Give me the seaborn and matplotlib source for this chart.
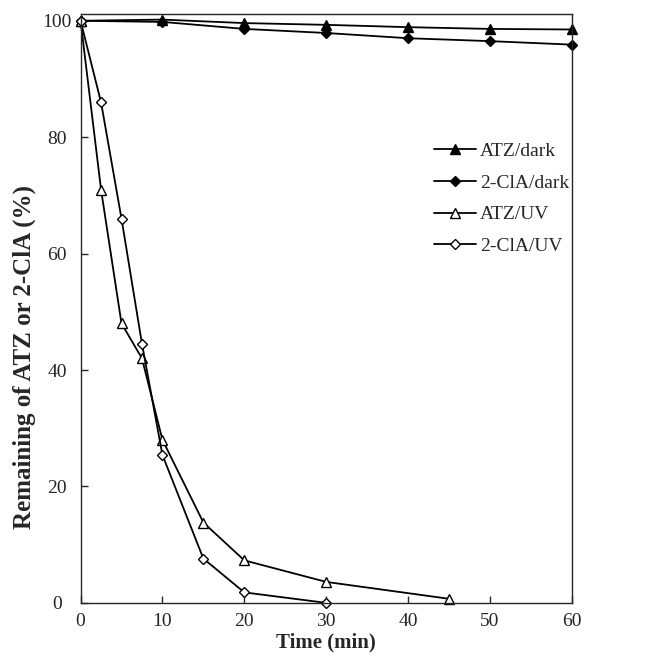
import numpy as np
import pandas as pd
import matplotlib
matplotlib.use("Agg")
import matplotlib.pyplot as plt
import seaborn as sns

sns.set_style("ticks")
plt.rcParams['font.family'] = ['Liberation Serif', 'DejaVu Serif']

t_dark = [0, 10, 20, 30, 40, 50, 60]
atz_dark = [100, 100.2, 99.6, 99.3, 98.9, 98.6, 98.5]
cla_dark = [100, 99.8, 98.6, 97.9, 97.0, 96.5, 95.9]

t_atz_uv = [0, 2.5, 5, 7.5, 10, 15, 20, 30, 45]
atz_uv = [100, 71, 48, 42, 28, 13.8, 7.3, 3.6, 0.7]

t_cla_uv = [0, 2.5, 5, 7.5, 10, 15, 20, 30]
cla_uv = [100, 86, 66, 44.5, 25.4, 7.6, 1.8, 0]

series = [
    ("ATZ/dark", t_dark, atz_dark, "^", "black", 7),
    ("2-ClA/dark", t_dark, cla_dark, "D", "black", 5.5),
    ("ATZ/UV", t_atz_uv, atz_uv, "^", "white", 7),
    ("2-ClA/UV", t_cla_uv, cla_uv, "D", "white", 5.5),
]

fig = plt.figure(figsize=(6.55, 6.56), dpi=100)
ax = fig.add_axes([0.123, 0.081, 0.750, 0.898])

for name, t, v, mk, fc, ms in series:
    df = pd.DataFrame({"t": t, "v": v})
    sns.lineplot(data=df, x="t", y="v", ax=ax, color="black", lw=1.3,
                 marker=mk, markersize=ms, markerfacecolor=fc,
                 markeredgecolor="black", markeredgewidth=1.0, label=name,
                 clip_on=False)

ax.set_xlim(0, 60)
ax.set_ylim(0, 101.2)
ax.set_xticks(np.arange(0, 61, 10))
ax.set_yticks(np.arange(0, 101, 20))
ax.tick_params(direction="in", labelsize=14, length=5, width=1, top=False, right=False)
ax.tick_params(axis="x", pad=7)
ax.tick_params(axis="y", pad=17)
for lab in ax.get_yticklabels():
    lab.set_horizontalalignment("center")
for s in ax.spines.values():
    s.set_linewidth(1.0)
ax.set_xlabel("Time (min)", fontsize=15, fontweight="bold")
ax.xaxis.set_label_coords(0.5, -0.051)
ax.set_ylabel("Remaining of ATZ or 2-ClA (%)", fontsize=18, fontweight="bold")
ax.yaxis.set_label_coords(-0.09, 0.418)

ax.legend(loc="upper left", bbox_to_anchor=(0.72, 0.782), frameon=False, fontsize=14,
          handlelength=2.15, labelspacing=0.73, handletextpad=0.2,
          borderpad=0, borderaxespad=0)

fig.savefig("out.png", dpi=100)
